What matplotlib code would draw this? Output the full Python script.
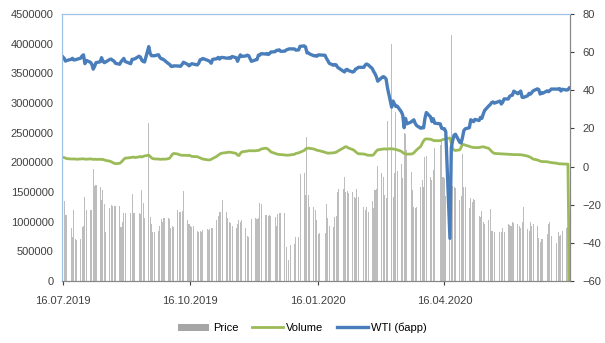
import numpy as np
import pandas as pd
import matplotlib.pyplot as plt
import matplotlib.dates as mdates
from matplotlib.ticker import FuncFormatter

plt.rcParams['font.family'] = ['Liberation Sans', 'DejaVu Sans']

# trading days, US exchange holidays skipped
holidays = ['2019-09-02', '2019-11-28', '2019-12-25', '2020-01-01', '2020-01-20',
            '2020-02-17', '2020-04-10', '2020-05-25', '2020-07-03']
dates = pd.bdate_range('2019-07-16', '2020-07-15', freq='C', holidays=holidays)

# WTI, $ per barrel (right axis)
wti = [
    # Jul 2019
    57.62, 56.78, 55.30, 55.63, 56.22, 56.77, 55.88, 56.02, 56.20, 56.87, 58.05, 58.58,
    # Aug
    53.95, 55.66, 54.69, 53.63, 51.09, 52.54, 54.50, 54.93, 57.10, 55.23, 54.47,
    54.87, 56.21, 56.34, 55.68, 55.35, 54.17, 53.64, 54.93, 55.78, 56.71, 55.10,
    # Sep
    53.94, 56.26, 56.30, 56.52, 57.85, 57.40, 55.75, 55.09, 54.85, 62.90, 59.34,
    58.11, 58.13, 58.09, 58.64, 57.29, 56.49, 56.41, 55.91, 54.07,
    # Oct
    53.62, 52.64, 52.45, 52.81, 52.75, 52.63, 52.59, 53.55, 54.70, 53.59, 52.81,
    53.36, 53.93, 53.78, 53.31, 54.16, 55.97, 56.23, 56.66, 55.81, 55.54, 55.06, 54.18,
    # Nov
    56.20, 56.54, 57.23, 56.35, 57.15, 57.24, 56.86, 56.80, 57.12, 56.77, 57.72,
    57.05, 55.21, 57.11, 58.58, 57.77, 58.01, 58.41, 58.11, 55.17,
    # Dec
    55.96, 56.10, 58.43, 58.43, 59.20, 59.02, 59.24, 58.76, 59.18, 60.07, 60.21,
    60.94, 60.93, 61.22, 60.44, 60.52, 61.11, 61.68, 61.72, 61.68, 61.06,
    # Jan 2020
    61.18, 63.05, 63.27, 62.70, 59.61, 59.56, 59.04, 58.08, 58.23, 57.81, 58.52,
    58.54, 58.34, 56.74, 55.59, 54.19, 53.14, 53.48, 53.33, 52.14, 51.56,
    # Feb
    50.11, 49.61, 50.75, 50.95, 50.32, 49.57, 49.94, 51.17, 51.42, 52.05, 52.05,
    53.29, 53.78, 53.38, 51.43, 49.90, 48.73, 47.09, 44.76,
    # Mar
    46.75, 47.18, 46.78, 45.90, 41.28, 31.13, 34.36, 32.98, 31.50, 31.73, 28.70,
    26.95, 20.37, 25.22, 22.43, 23.36, 24.01, 24.49, 22.60, 21.51, 20.09, 20.48,
    # Apr
    20.31, 25.32, 28.34, 26.08, 23.63, 25.09, 22.76, 22.41, 20.11, 19.87, 19.87,
    18.27, -37.63, 10.01, 13.78, 16.50, 16.94, 12.78, 12.34, 15.06, 18.84,
    # May
    19.78, 20.39, 24.56, 23.99, 23.55, 24.74, 24.14, 25.78, 25.29, 27.56, 29.43,
    31.82, 32.50, 33.49, 33.92, 33.25, 34.35, 32.81, 33.71, 35.49,
    # Jun
    35.44, 36.81, 37.29, 37.41, 39.55, 38.19, 38.94, 39.60, 36.34, 36.26, 37.12,
    38.38, 37.96, 38.84, 39.75, 40.73, 40.37, 38.01, 38.72, 38.49, 39.70, 39.27,
    # Jul
    39.82, 40.65, 40.63, 40.62, 40.90, 39.62, 40.55, 40.10, 40.29, 41.20,
]

# green line, left axis
volume = [
    # Jul 2019
    2085000, 2080000, 2070000, 2062000, 2058000, 2055000, 2058000, 2055000, 2052000,
    2056000, 2060000, 2057000,
    # Aug
    2055000, 2052000, 2058000, 2054000, 2050000, 2053000, 2049000, 2052000, 2047000,
    2050000, 2040000, 2032000, 2020000, 2008000, 1995000, 1985000, 1978000, 1983000,
    2000000, 2025000, 2050000, 2070000,
    # Sep
    2080000, 2085000, 2090000, 2080000, 2092000, 2098000, 2090000, 2100000, 2108000,
    2120000, 2100000, 2075000, 2062000, 2058000, 2055000, 2052000, 2050000, 2055000,
    2052000, 2060000,
    # Oct
    2070000, 2100000, 2135000, 2150000, 2140000, 2128000, 2122000, 2118000, 2120000,
    2115000, 2120000, 2110000, 2100000, 2098000, 2095000, 2085000, 2075000, 2065000,
    2055000, 2045000, 2040000, 2042000, 2050000,
    # Nov
    2065000, 2100000, 2120000, 2135000, 2150000, 2155000, 2165000, 2170000, 2172000,
    2168000, 2165000, 2150000, 2120000, 2115000, 2150000, 2175000, 2185000, 2190000,
    2195000, 2195000,
    # Dec
    2195000, 2200000, 2200000, 2210000, 2225000, 2238000, 2235000, 2220000, 2200000,
    2175000, 2150000, 2140000, 2135000, 2132000, 2130000, 2125000, 2120000, 2122000,
    2125000, 2135000, 2150000,
    # Jan 2020
    2160000, 2170000, 2200000, 2225000, 2235000, 2240000, 2235000, 2225000, 2215000,
    2205000, 2200000, 2195000, 2170000, 2160000, 2155000, 2155000, 2160000, 2165000,
    2170000, 2185000, 2200000,
    # Feb
    2240000, 2255000, 2265000, 2255000, 2240000, 2215000, 2200000, 2180000, 2160000,
    2145000, 2140000, 2135000, 2125000, 2120000, 2118000, 2130000, 2160000, 2190000,
    2210000,
    # Mar
    2220000, 2225000, 2228000, 2222000, 2225000, 2230000, 2225000, 2222000, 2218000,
    2210000, 2185000, 2165000, 2150000, 2140000, 2138000, 2140000, 2145000, 2160000,
    2185000, 2210000, 2270000, 2320000,
    # Apr
    2360000, 2390000, 2395000, 2390000, 2380000, 2370000, 2365000, 2365000, 2375000,
    2385000, 2390000, 2400000, 2410000, 2320000, 2230000, 2205000, 2200000, 2210000,
    2250000, 2300000, 2300000,
    # May
    2290000, 2270000, 2260000, 2255000, 2250000, 2248000, 2250000, 2255000, 2260000,
    2262000, 2255000, 2235000, 2210000, 2185000, 2165000, 2150000, 2145000, 2145000,
    2142000, 2140000,
    # Jun
    2138000, 2135000, 2135000, 2132000, 2130000, 2130000, 2128000, 2126000, 2125000,
    2120000, 2105000, 2095000, 2085000, 2070000, 2055000, 2040000, 2030000, 2020000,
    2015000, 2012000, 2010000, 2005000,
    # Jul
    2000000, 1995000, 1985000, 1978000, 1975000, 1975000, 1972000, 1970000, 1970000, 0,
]

# grey bars, left axis
price = [
    # Jul 2019
    1390000, 1350000, 1120000, 1110000, 890000, 740000, 1190000, 700000, 690000,
    700000, 910000, 920000,
    # Aug
    1420000, 1200000, 1190000, 1200000, 1880000, 1600000, 1610000, 1590000, 1360000,
    1530000, 1300000, 830000, 1230000, 1280000, 1270000, 1260000, 1265000, 1260000,
    916000, 1000000, 1140000, 1150000,
    # Sep
    1140000, 1470000, 1150000, 1140000, 1150000, 1130000, 1530000, 1310000, 1060000,
    2670000, 1080000, 960000, 830000, 830000, 850000, 920000, 1050000, 1000000,
    1060000, 1060000,
    # Oct
    1050000, 900000, 920000, 910000, 1200000, 1170000, 1160000, 1180000, 1510000,
    1030000, 960000, 920000, 910000, 920000, 840000, 830000, 840000, 830000, 860000,
    870000, 860000, 880000, 890000,
    # Nov
    890000, 1030000, 1100000, 1170000, 1160000, 1360000, 1170000, 1060000, 1000000,
    980000, 920000, 900000, 960000, 1030000, 1000000, 1020000, 900000, 760000,
    750000, 1050000,
    # Dec
    1060000, 1050000, 1060000, 1310000, 1290000, 1110000, 1120000, 1100000, 1110000,
    1090000, 1080000, 920000, 1130000, 1140000, 1150000, 1140000, 570000, 350000,
    600000, 620000, 750000,
    # Jan 2020
    750000, 1810000, 1820000, 1450000, 2430000, 1450000, 1250000, 1240000, 1200000,
    1030000, 800000, 810000, 810000, 1300000, 1060000, 920000, 910000, 1080000,
    1090000, 1500000, 1550000,
    # Feb
    1550000, 1750000, 1500000, 1520000, 1480000, 1500000, 1420000, 1400000, 1550000,
    1420000, 1250000, 1200000, 1250000, 1160000, 1350000, 1230000, 1540000, 1550000,
    1930000,
    # Mar
    1820000, 1750000, 1450000, 1400000, 2700000, 4000000, 1420000, 1820000, 2850000,
    1850000, 1980000, 1730000, 2490000, 2480000, 2210000, 1830000, 1530000, 1240000,
    1230000, 1250000, 1580000, 1700000,
    # Apr
    1580000, 2090000, 2100000, 1750000, 1700000, 1870000, 2240000, 2300000, 2390000,
    1750000, 1740000, 1440000, 1500000, 4150000, 1600000, 1580000, 1570000, 1360000,
    1440000, 2140000, 1580000,
    # May
    1580000, 1230000, 1400000, 1330000, 1380000, 1360000, 1100000, 1080000, 1180000,
    990000, 960000, 1020000, 1210000, 850000, 840000, 830000, 820000, 830000, 900000,
    820000,
    # Jun
    960000, 950000, 920000, 990000, 980000, 960000, 930000, 900000, 1000000, 1240000,
    880000, 850000, 990000, 930000, 960000, 930000, 720000, 660000, 700000, 710000,
    790000, 960000,
    # Jul
    990000, 760000, 640000, 820000, 760000, 770000, 850000, 900000, 910000, 910000,
]

fig = plt.figure(figsize=(6.05, 3.43), dpi=100)
ax = fig.add_axes([62 / 605, 1 - 281 / 343, 508 / 605, 267 / 343])
ax2 = ax.twinx()

bars = ax.bar(dates, price, width=0.75, color='#BDBDBD', linewidth=0, label='Price', zorder=1)
line_v, = ax.plot(dates, volume, color='#9BBB59', lw=2.0, label='Volume', zorder=2)
line_w, = ax2.plot(dates, wti, color='#4A7EBB', lw=2.4, label='WTI (барр)')

ax.set_xlim(pd.Timestamp('2019-07-15 12:00'), pd.Timestamp('2020-07-15 12:00'))
ax.set_ylim(0, 4500000)
ax.set_yticks(np.arange(0, 4500001, 500000))
ax.yaxis.set_major_formatter(FuncFormatter(lambda v, p: f'{int(v)}'))
ax2.set_ylim(-60, 80)
ax2.set_yticks(np.arange(-60, 81, 20))

ax.xaxis.set_major_locator(mdates.MonthLocator(bymonth=[1, 4, 7, 10], bymonthday=16))
ax.xaxis.set_major_formatter(mdates.DateFormatter('%d.%m.%Y'))

for a in (ax, ax2):
    a.tick_params(labelsize=8, colors='#404040', length=3, width=0.8)
    for s in a.spines.values():
        s.set_color('#868686')
        s.set_linewidth(0.8)
    a.spines['top'].set_color('#9DC3E6')
    a.spines['left'].set_color('#9DC3E6')
ax.tick_params(axis='y', length=0, pad=6)
ax.tick_params(axis='x', pad=8)
ax2.tick_params(axis='y', pad=6)

leg = fig.legend(handles=[bars, line_v, line_w], loc='lower center', ncol=3,
                 bbox_to_anchor=(0.5, 0.0), frameon=False, fontsize=8,
                 handlelength=2.8, handleheight=0.6, columnspacing=1.2, handletextpad=0.3)
leg.legend_handles[0].set_color('#A6A6A6')

fig.savefig('out.png', dpi=100)
